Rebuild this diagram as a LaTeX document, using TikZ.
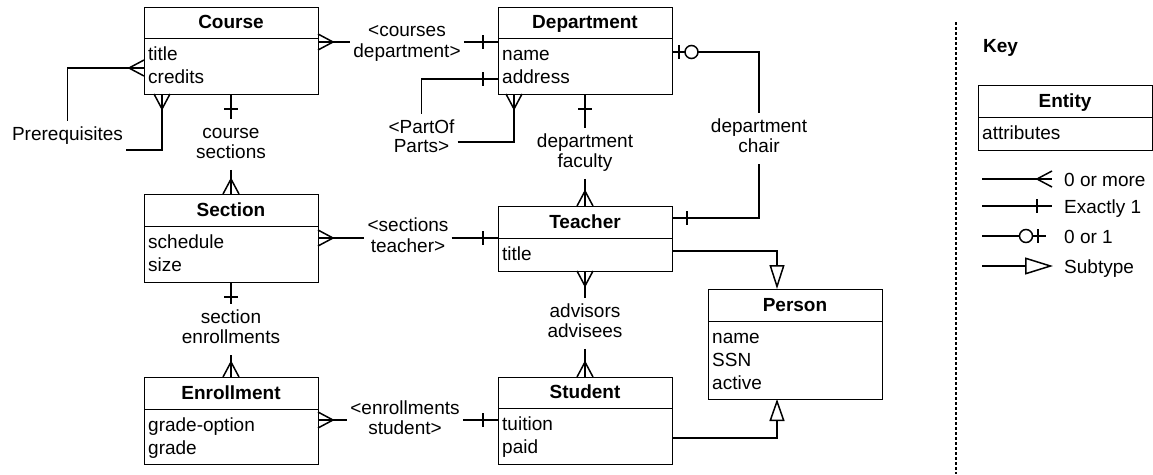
\documentclass[tikz,border=0pt]{standalone}
\usepackage{fontspec}
\setmainfont{Liberation Sans}
\usetikzlibrary{arrows.meta}
\tikzset{
  ebox/.style={draw, line width=1pt, rectangle, inner sep=0pt, outer sep=0pt},
  divline/.style={line width=1pt},
  ttl/.style={font=\fontsize{19}{23}\selectfont\bfseries, inner sep=0pt, anchor=base},
  attr/.style={font=\fontsize{19}{23}\selectfont, align=left, inner sep=0pt, anchor=north west},
  lbl/.style={font=\fontsize{19}{19}\selectfont, align=center, inner xsep=3pt, inner ysep=5.5pt},
  keytxt/.style={font=\fontsize{19}{23}\selectfont, inner sep=0pt, anchor=base west},
  conn/.style={line width=1.5pt},
  crowR/.pic={\draw[conn] (0,-8) -- (15,0) -- (0,8);},
  crowL/.pic={\draw[conn] (0,-8) -- (-15,0) -- (0,8);},
  crowD/.pic={\draw[conn] (-8,0) -- (0,15) -- (8,0);},
  crowU/.pic={\draw[conn] (-8,0) -- (0,-15) -- (8,0);},
  tickV/.pic={\draw[conn] (0,-7) -- (0,7);},
  tickH/.pic={\draw[conn] (-7,0) -- (7,0);},
  zc/.style={circle, draw, fill=white, line width=1.5pt, minimum size=13pt, inner sep=0pt},
  sub/.style={-{Triangle[open, length=24pt, width=15pt]}},
  sep/.style={line width=2.6pt, dash pattern=on 3pt off 2pt},
}
% #1 name #2 cx #3 cy #4 w #5 h #6 divider y #7 title #8 attributes
\newcommand\erent[8]{%
  \node[ebox, minimum width=#4pt, minimum height=#5pt] (#1) at (#2,#3) {};
  \draw[divline] (#2-#4/2,#6) -- (#2+#4/2,#6);
  \node[ttl] (#1-t) at (#2,#6-9.8) {#7};
  \node[attr] (#1-a) at (#2-#4/2+4,#6+5.9) {#8};
}
\begin{document}
\begin{tikzpicture}[x=1pt, y=-1pt]
\useasboundingbox (0,0) rectangle (1153,474);

% entities
\erent{course}{231}{50.5}{174}{87}{38}{Course}{\strut title\\\strut credits}
\erent{dept}{585}{50.5}{174}{87}{38}{Department}{\strut name\\\strut address}
\erent{section}{231}{238}{174}{88}{226}{Section}{\strut schedule\\\strut size}
\erent{teacher}{585}{238.5}{174}{65}{238}{Teacher}{\strut title}
\erent{enroll}{231}{420.5}{174}{87}{409}{Enrollment}{\strut grade-option\\\strut grade}
\erent{student}{585}{420.5}{174}{87}{408}{Student}{\strut tuition\\\strut paid}
\erent{person}{795}{344}{174}{110}{321}{Person}{\strut name\\\strut SSN\\\strut active}
\erent{keyent}{1065}{117.5}{174}{65}{117}{Entity}{\strut attributes}

% labels
\node[lbl] (lcd) at (407,43) {\strut <courses\\\strut department>};
\node[lbl] (lpr) at (67.5,136) {\strut Prerequisites};
\node[lbl] (lcs) at (231,144.5) {\strut course\\\strut sections};
\node[lbl] (lpo) at (421.5,138.7) {\strut <PartOf\\\strut Parts>};
\node[lbl] (ldf) at (585,153.3) {\strut department\\\strut faculty};
\node[lbl] (ldc) at (759,138.7) {\strut department\\\strut chair};
\node[lbl] (lst) at (408,238) {\strut <sections\\\strut teacher>};
\node[lbl] (lse) at (231,329.5) {\strut section\\\strut enrollments};
\node[lbl] (lad) at (585,323.3) {\strut advisors\\\strut advisees};
\node[lbl] (les) at (405,420.5) {\strut <enrollments\\\strut student>};

% helper levels
\coordinate (y42) at (0,42);
\coordinate (y52) at (0,52);
\coordinate (y68) at (0,68);
\coordinate (y79) at (0,79);
\coordinate (y142) at (0,142);
\coordinate (y150) at (0,150);
\coordinate (y218) at (0,218);
\coordinate (y238) at (0,238);
\coordinate (y251) at (0,251);
\coordinate (y420) at (0,420);
\coordinate (y438) at (0,438);
\coordinate (x162) at (162,0);
\coordinate (x514) at (514,0);
\coordinate (x777) at (777,0);

% Course - Department
\draw[conn] (course.east |- y42) -- (lcd.west |- y42);
\draw[conn] (lcd.east |- y42) -- (dept.west |- y42);
\pic at (course.east |- y42) {crowR};
\path (dept.west |- y42) ++(-15,0) pic {tickV};

% Prerequisites
\draw[conn] (course.west |- y68) -| (lpr.north);
\pic at (course.west |- y68) {crowL};
\draw[conn] (lpr.east |- y150) -| (course.south -| x162);
\pic at (course.south -| x162) {crowD};

% Course - Section
\draw[conn] (course.south) -- (lcs.north);
\draw[conn] (lcs.south) -- (section.north);
\path (course.south) ++(0,15) pic {tickH};
\pic at (section.north) {crowU};

% Department PartOf
\draw[conn] (dept.west |- y79) -| (lpo.north);
\path (dept.west |- y79) ++(-15,0) pic {tickV};
\draw[conn] (lpo.east |- y142) -| (dept.south -| x514);
\pic at (dept.south -| x514) {crowD};

% Department - Teacher (faculty)
\draw[conn] (dept.south) -- (ldf.north);
\draw[conn] (ldf.south) -- (teacher.north);
\path (dept.south) ++(0,15) pic {tickH};
\pic at (teacher.north) {crowU};

% Department chair
\draw[conn] (dept.east |- y52) -| (ldc.north);
\draw[conn] (ldc.south) |- (teacher.east |- y218);
\path (dept.east |- y52) ++(7,0) pic {tickV};
\path (dept.east |- y52) ++(19.5,0) node[zc] (dcc) {};
\path (teacher.east |- y218) ++(15,0) pic {tickV};

% Section - Teacher
\draw[conn] (section.east |- y238) -- (lst.west |- y238);
\draw[conn] (lst.east |- y238) -- (teacher.west |- y238);
\pic at (section.east |- y238) {crowR};
\path (teacher.west |- y238) ++(-15,0) pic {tickV};

% Section - Enrollment
\draw[conn] (section.south) -- (lse.north);
\draw[conn] (lse.south) -- (enroll.north);
\path (section.south) ++(0,15) pic {tickH};
\pic at (enroll.north) {crowU};

% Teacher - Student
\draw[conn] (teacher.south) -- (lad.north);
\draw[conn] (lad.south) -- (student.north);
\pic at (teacher.south) {crowD};
\pic at (student.north) {crowU};

% Enrollment - Student
\draw[conn] (enroll.east |- y420) -- (les.west |- y420);
\draw[conn] (les.east |- y420) -- (student.west |- y420);
\pic at (enroll.east |- y420) {crowR};
\path (student.west |- y420) ++(-15,0) pic {tickV};

% Subtypes
\draw[conn, sub] (teacher.east |- y251) -| (person.north -| x777);
\draw[conn, -{Triangle[open, length=22pt, width=15pt]}] (student.east |- y438) -| (person.south -| x777);

% separator
\coordinate (sepTop) at (956,22);
\coordinate (sepBot) at (956,474);
\draw[sep] (sepTop) -- (sepBot);

% Key
\node[font=\fontsize{19}{23}\selectfont\bfseries, inner sep=0pt, anchor=base west] (keyt) at (983,52) {Key};

\coordinate (k1s) at (982,179); \coordinate (k1e) at (1052,179);
\draw[conn] (k1s) -- (k1e);
\pic at (k1e) {crowL};
\node[keytxt] (k1t) at (1064,186) {0 or more};

\coordinate (k2s) at (982,206); \coordinate (k2e) at (1052,206);
\draw[conn] (k2s) -- (k2e);
\path (k2e) ++(-15,0) pic {tickV};
\node[keytxt] (k2t) at (1064,213) {Exactly 1};

\coordinate (k3s) at (982,236); \coordinate (k3e) at (1046,236);
\draw[conn] (k3s) -- (k3e);
\path (k3e) ++(-8,0) pic {tickV};
\path (k3e) ++(-20,0) node[zc] (k3c) {};
\node[keytxt] (k3t) at (1064,243) {0 or 1};

\coordinate (k4s) at (982,266); \coordinate (k4e) at (1053,266);
\draw[conn, -{Triangle[open, length=28pt, width=17pt]}] (k4s) -- (k4e);
\node[keytxt] (k4t) at (1064,273) {Subtype};
\end{tikzpicture}
\end{document}
